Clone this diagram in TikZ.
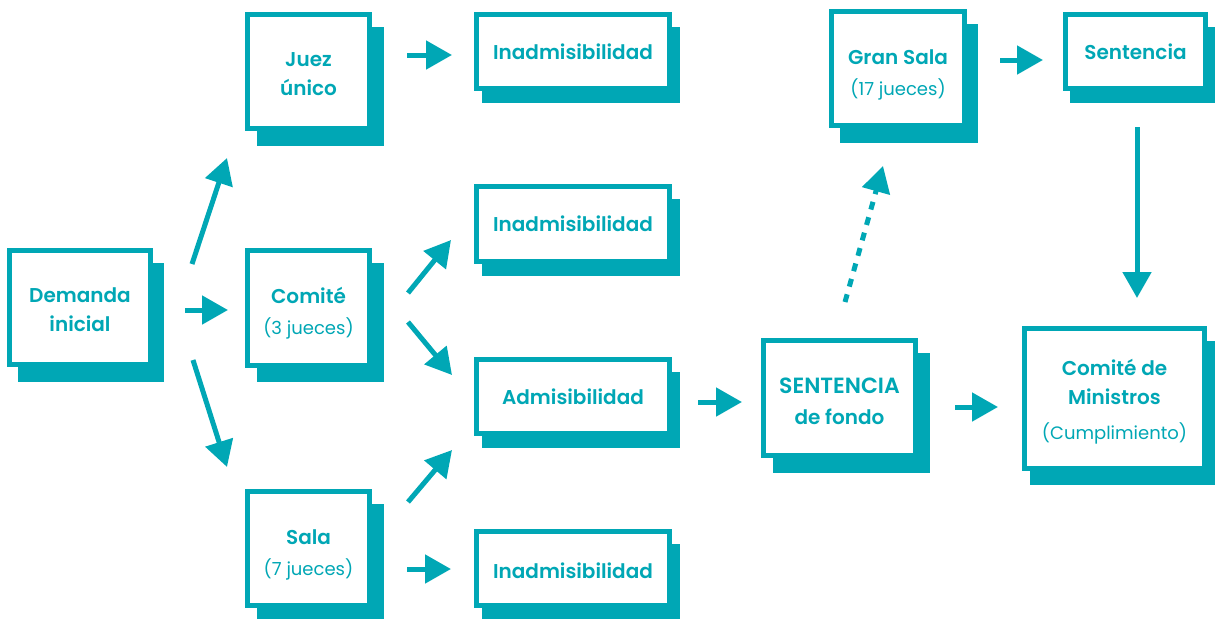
\documentclass[tikz,border=0pt]{standalone}
\usepackage{fontspec}
\setmainfont{Poppins}[BoldFont={Poppins SemiBold}]
\usetikzlibrary{arrows.meta,backgrounds}
\definecolor{teal}{RGB}{0,167,181}
\tikzset{
  box/.style={draw=teal, line width=2.5pt, fill=white, inner sep=0pt, outer sep=1.25pt},
  boxtext/.style={inner sep=0pt, align=center, text=teal, font=\bfseries\fontsize{10}{14.5}\selectfont},
  arr/.style={draw=teal, line width=2.5pt, -{Triangle[length=13pt,width=14pt]}},
  darr/.style={arr, dash pattern=on 4pt off 4pt},
}
\newcommand\sub[1]{\\[1pt]{\mdseries\fontsize{9}{11}\selectfont #1}}
\newcommand\bx[9]{%
  \pgfmathsetmacro\bxcx{(#2+#4)/2}%
  \pgfmathsetmacro\bxcy{(#3+#5)/2}%
  \pgfmathsetmacro\bxw{(#4-#2-5)/2}%
  \pgfmathsetmacro\bxh{(#5-#3-5)/2}%
  \node[box, minimum width=\bxw pt, minimum height=\bxh pt] (#1) at (\bxcx,\bxcy) {};
  \node[boxtext] (#1-t) at ([shift={(0,#9)}]#1.center) {#8};
  \begin{scope}[on background layer]
    \fill[teal] ([shift={(#6,15)}]#1.north west) rectangle ([shift={(#6,#7)}]#1.south east);
  \end{scope}
}
\begin{document}
\begin{tikzpicture}[x=0.5pt,y=-0.5pt]
\useasboundingbox (0,0) rectangle (1215,618);
\bx{dem}{7}{248}{153}{367}{11}{15}{Demanda\\inicial}{2}
\bx{juez}{245}{12}{372}{131}{12}{15}{Juez\\único}{3}
\bx{com}{245}{248}{372}{368}{12}{14}{Comité\sub{(3 jueces)}}{5}
\bx{sala}{245}{489}{372}{608}{12}{15}{Sala\sub{(7 jueces)}}{6}
\bx{ina}{474}{12}{672}{91}{8}{12}{Inadmisibilidad}{0}
\bx{inb}{474}{184}{672}{264}{8}{12}{Inadmisibilidad}{0}
\bx{adm}{474}{357}{672}{436}{8}{12}{Admisibilidad}{0}
\bx{inc}{474}{529}{672}{608}{8}{12}{Inadmisibilidad}{2}
\bx{sf}{761}{338}{918}{458}{12}{15}{{\fontsize{11}{14.5}\selectfont SENTENCIA}\\[1pt]de fondo}{3}
\bx{gs}{829}{9}{967}{128}{11}{15}{Gran Sala\sub{(17 jueces)}}{6}
\bx{sen}{1063}{12}{1208}{91}{7}{12}{Sentencia}{0}
\bx{cm}{1022}{326}{1207}{471}{8}{14}{Comité de\\Ministros\\[3pt]{\mdseries\fontsize{9}{11}\selectfont (Cumplimiento)}}{3}
% arrow end points
\coordinate (a1s) at (192,264); \coordinate (a1e) at (227,158);
\coordinate (a2s) at (185,310); \coordinate (a2e) at (228,310);
\coordinate (a3s) at (193,360); \coordinate (a3e) at (227,467);
\coordinate (a4s) at (407,55);  \coordinate (a4e) at (452,55);
\coordinate (a5s) at (408,293); \coordinate (a5e) at (451,240);
\coordinate (a6s) at (408,322); \coordinate (a6e) at (452,375);
\coordinate (a7s) at (408,502); \coordinate (a7e) at (452,450);
\coordinate (a8s) at (407,569); \coordinate (a8e) at (451,569);
\coordinate (a9s) at (698,402); \coordinate (a9e) at (742,402);
\coordinate (a10s) at (955,407); \coordinate (a10e) at (998,407);
\coordinate (a11s) at (845,302); \coordinate (a11e) at (883,166);
\coordinate (a12s) at (1000,60); \coordinate (a12e) at (1043,60);
\coordinate (a13s) at (1137,127); \coordinate (a13e) at (1137,298);
\foreach \i in {1,...,10,12,13} \draw[arr] (a\i s) -- (a\i e);
\draw[darr] (a11s) -- (a11e);
\end{tikzpicture}
\end{document}
